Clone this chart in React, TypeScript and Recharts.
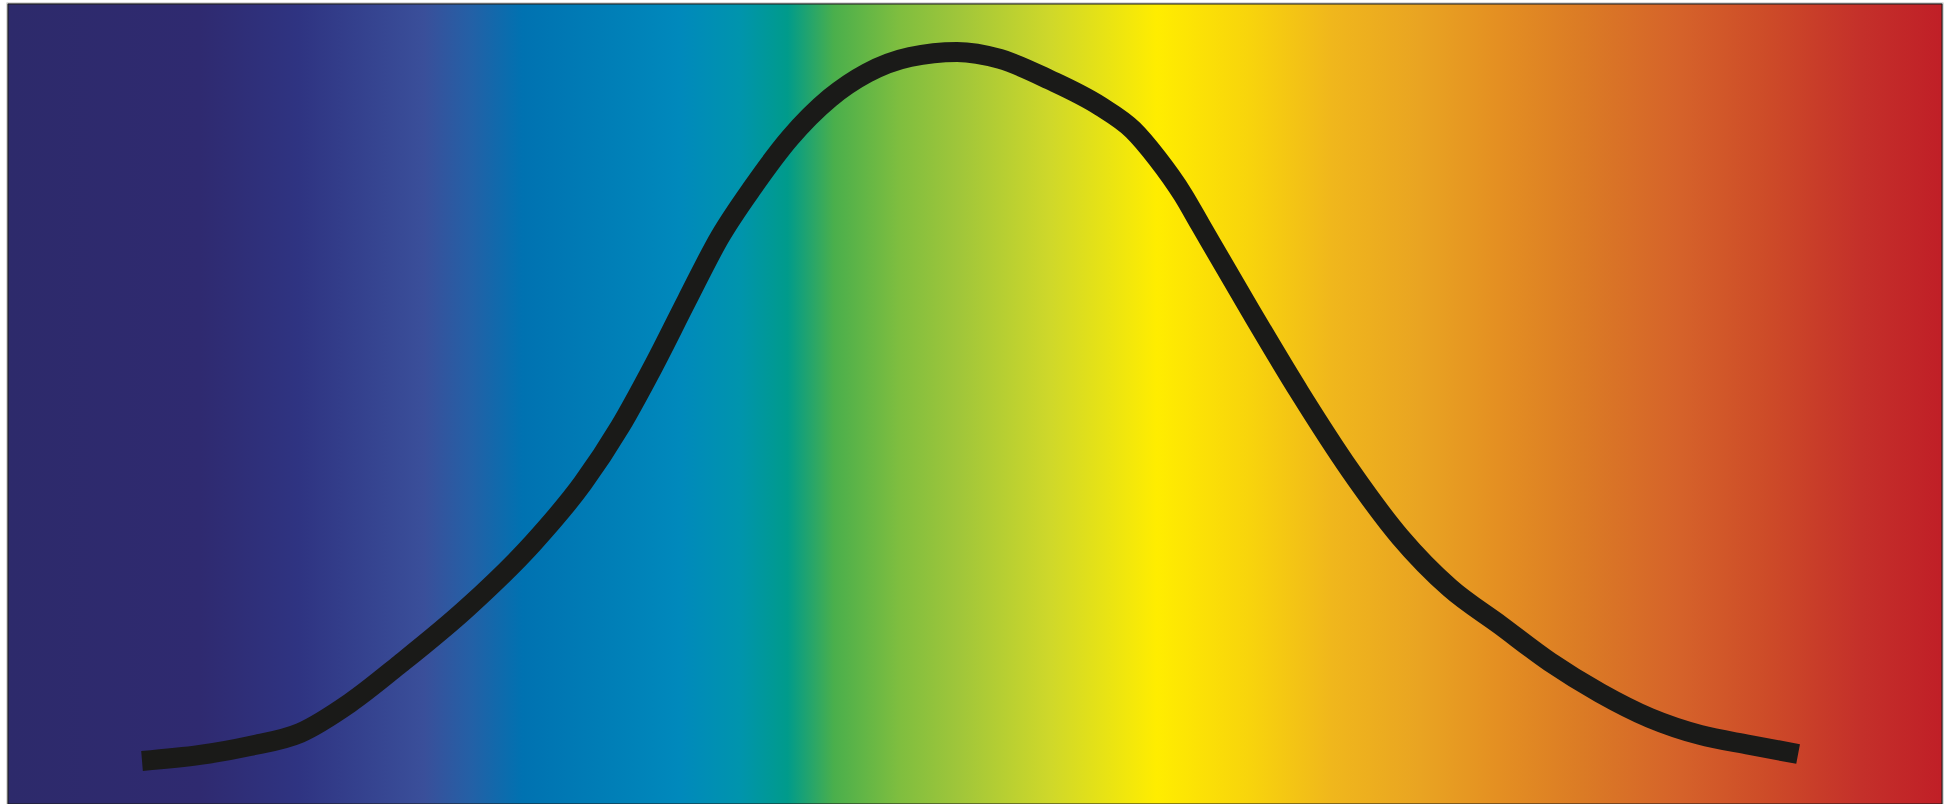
import React from 'react';
import { LineChart, Line, XAxis, YAxis, ReferenceArea } from 'recharts';

// position across the spectrum (0 = left edge, 100 = right edge)
const positions = [
  6.93, 9.93, 12.51, 15.1, 17.68, 20.27, 23.73, 27.15, 29.73, 31.64, 33.35,
  35.11, 36.81, 38.52, 40.43, 42.5, 44.42, 46.64, 49.07, 51.29, 53.88, 56.46,
  58.17, 59.41, 60.76, 61.63, 64.22, 66.8, 69.39, 71.98, 74.56, 77.15, 79.73,
  82.32, 84.9, 87.49, 90.07, 92.56,
];

// relative intensity (0 = bottom, 100 = top)
const intensities = [
  5.38, 6.13, 7.25, 8.88, 12.63, 17.5, 24.5, 32.63, 40.13, 47.13, 54.63,
  63.0, 70.88, 77.13, 83.25, 88.25, 91.38, 93.38, 94.0, 93.13, 90.5, 87.25,
  84.25, 80.75, 76.13, 72.5, 61.75, 51.38, 41.75, 33.38, 27.0, 22.38, 17.75,
  13.88, 10.75, 8.63, 7.38, 6.25,
];

const data = positions.map((x, i) => ({ x, y: intensities[i] }));

// spectrum colour stops for the background
const spectrumStops: [number, string][] = [
  [0, '#2d2a6b'],
  [9.9, '#2f2a70'],
  [15.1, '#2f3482'],
  [21.5, '#3a4f9a'],
  [23.9, '#2460a6'],
  [26.6, '#0072b1'],
  [30.6, '#007db6'],
  [34.7, '#0089bc'],
  [37.8, '#0094ad'],
  [40.3, '#009b8b'],
  [42.7, '#4aaf4c'],
  [46.1, '#7fbe3f'],
  [49.2, '#a0c63a'],
  [53.9, '#cfd82a'],
  [59.4, '#ffed00'],
  [64.2, '#f8d40c'],
  [68.4, '#f0b71c'],
  [73.0, '#e9a422'],
  [77.1, '#e48f22'],
  [81.4, '#db7b25'],
  [86.5, '#d5622a'],
  [91.0, '#cd4b28'],
  [95.8, '#c4302a'],
  [100, '#c01f27'],
];

const App: React.FC = () => {
  return (
    <div style={{ position: 'absolute', left: 0, top: 0, width: 1953, height: 804 }}>
      <LineChart
        width={1953}
        height={804}
        data={data}
        margin={{ top: 4, right: 11, left: 8, bottom: 0 }}
      >
        <defs>
          <linearGradient id="spectrum" x1="0" y1="0" x2="1" y2="0">
            {spectrumStops.map(([o, c]) => (
              <stop key={o} offset={`${o}%`} stopColor={c} />
            ))}
          </linearGradient>
        </defs>
        <XAxis dataKey="x" type="number" domain={[0, 100]} hide />
        <YAxis type="number" domain={[0, 100]} hide />
        {/* outer grey edge, then the spectrum fill */}
        <ReferenceArea x1={0} x2={100} y1={0} y2={100} fill="none" stroke="#b8b8b8" strokeWidth={3} ifOverflow="visible" />
        <ReferenceArea x1={0} x2={100} y1={0} y2={100} fill="url(#spectrum)" fillOpacity={1} stroke="#1d1d1b" strokeWidth={1} ifOverflow="visible" />
        <Line
          type="monotone"
          dataKey="y"
          stroke="#1a1a18"
          strokeWidth={20}
          strokeLinecap="butt"
          dot={false}
          activeDot={false}
          isAnimationActive={false}
        />
      </LineChart>
    </div>
  );
};

export default App;
